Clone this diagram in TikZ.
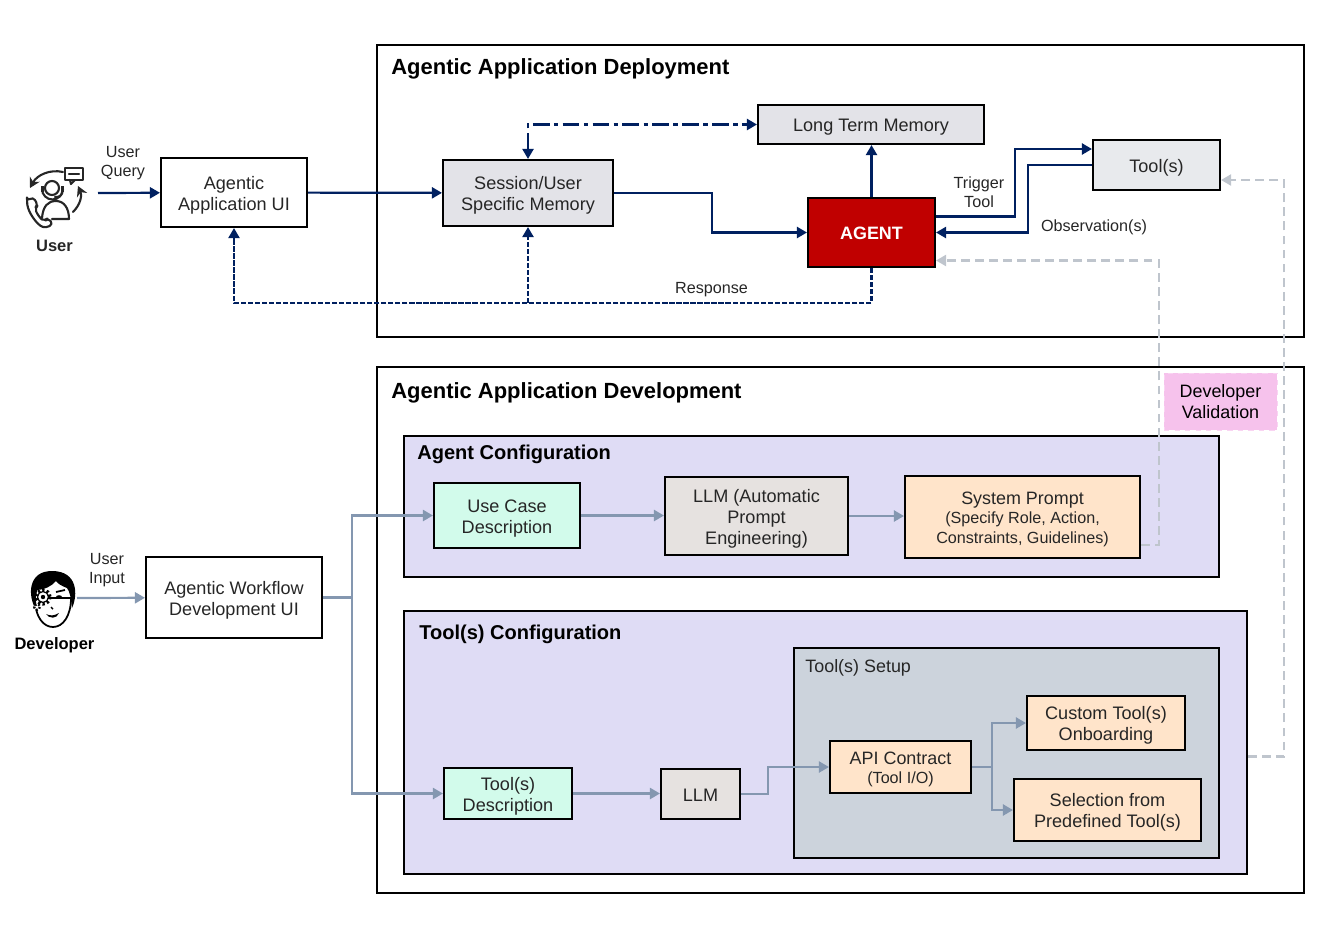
\documentclass[tikz,border=0pt]{standalone}
\usepackage{fontspec}
\setmainfont{Liberation Sans}
\usetikzlibrary{positioning, calc, arrows.meta}
\definecolor{navy}{HTML}{002060}
\definecolor{slate}{HTML}{8497B0}
\definecolor{pale}{HTML}{BFC5CD}
\definecolor{agentred}{HTML}{C00000}
\definecolor{memory}{HTML}{E3E3E8}
\definecolor{toolgrey}{HTML}{E8EAED}
\definecolor{mint}{HTML}{D2FBEB}
\definecolor{stone}{HTML}{E6E2E0}
\definecolor{peach}{HTML}{FFE4CA}
\definecolor{lilac}{HTML}{DFDCF5}
\definecolor{setup}{HTML}{CCD3DC}
\definecolor{pink}{HTML}{F6C2EC}

\begin{document}
\begin{tikzpicture}[x = 0.02cm, y = -0.02cm]

\tikzset{
box/.style = {rectangle, draw, line width = 1.2pt, align = center, inner sep = 0pt,
	font = \fontsize{10.3}{12}\selectfont, text = black!85},
lift/.style = {execute at begin node = {\rule{0pt}{#1}}},
smallbox/.style = {box, font = \fontsize{10.2}{11}\selectfont},
panel/.style = {rectangle, draw, line width = 1.2pt, inner sep = 0pt},
title/.style = {anchor = west, inner sep = 0pt, font = \fontsize{12.5}{14}\selectfont\bfseries},
subtitle/.style = {anchor = west, inner sep = 0pt, font = \fontsize{11.4}{14}\selectfont\bfseries},
tag/.style = {align = center, inner sep = 0pt, font = \fontsize{9.2}{10.8}\selectfont, text = black!85},
deploy/.style = {-{Triangle[length = 2mm, width = 2.2mm]}, color = navy, line width = 1.25pt},
develop/.style = {-{Triangle[length = 2mm, width = 2.2mm]}, color = slate, line width = 1.25pt},
check/.style = {-{Triangle[length = 2mm, width = 2.2mm]}, color = pale, line width = 1.25pt, dash pattern = on 5pt off 3pt},
}
\useasboundingbox (0,0) rectangle (1322,937);

%% Outer panels
\node at (840.5,191) [panel, minimum width = 18.54cm, minimum height = 5.84cm] (deployment) {};
\node at (840.5,630) [panel, minimum width = 18.54cm, minimum height = 10.52cm] (development) {};
\node at (391,69) [title] (deploymenttitle) {Agentic Application Deployment};
\node at (391,393) [title] (developmenttitle) {Agentic Application Development};

%% Configuration panels
\node at (811.5,506.5) [panel, fill = lilac, minimum width = 16.3cm, minimum height = 2.82cm] (agentconfig) {};
\node at (825.5,742.5) [panel, fill = lilac, minimum width = 16.86cm, minimum height = 5.26cm] (toolconfig) {};
\node at (1006.5,753) [panel, fill = setup, minimum width = 8.5cm, minimum height = 4.2cm] (toolsetup) {};
\node at (417,454) [subtitle] (agentconfigtitle) {Agent Configuration};
\node at (419,634) [subtitle] (toolconfigtitle) {Tool(s) Configuration};
\node at (805,668) [tag, anchor = west, font = \fontsize{10.2}{12}\selectfont] (toolsetuptitle) {Tool(s) Setup};

%% Deployment
\node at (234,192.5) [box, lift = 22.4pt, minimum width = 2.92cm, minimum height = 1.38cm] (appui) {Agentic\\Application UI};
\node at (528,193) [box, lift = 22.4pt, fill = memory, minimum width = 3.4cm, minimum height = 1.32cm] (session) {Session/User\\Specific Memory};
\node at (871,124.5) [box, lift = 10.4pt, fill = memory, minimum width = 4.52cm, minimum height = 0.78cm] (longterm) {Long Term Memory};
\node at (871.5,232.5) [box, lift = 8.5pt, fill = agentred, text = white, minimum width = 2.54cm, minimum height = 1.38cm, font = \fontsize{10.2}{12}\selectfont\bfseries] (agent) {AGENT};
\node at (1156.5,165) [box, lift = 10.4pt, fill = toolgrey, minimum width = 2.54cm, minimum height = 1cm] (tools) {Tool(s)};

%% Development
\node at (234,597.5) [box, lift = 22.4pt, minimum width = 3.52cm, minimum height = 1.62cm] (workflowui) {Agentic Workflow\\Development UI};
\node at (507,515.5) [box, lift = 22.4pt, fill = mint, minimum width = 2.92cm, minimum height = 1.3cm] (usecase) {Use Case\\Description};
\node at (756.5,516) [box, lift = 34.4pt, fill = stone, minimum width = 3.66cm, minimum height = 1.56cm] (promptllm) {LLM (Automatic\\Prompt\\Engineering)};
\node at (1022.5,517) [smallbox, lift = 31.7pt, fill = peach, minimum width = 4.7cm, minimum height = 1.64cm] (sysprompt) {System Prompt\\{\fontsize{9.2}{11}\selectfont (Specify Role, Action,}\\{\fontsize{9.2}{11}\selectfont Constraints, Guidelines)}};
\node at (508,793.5) [box, lift = 22.4pt, fill = mint, minimum width = 2.56cm, minimum height = 1.02cm] (tooldesc) {Tool(s)\\Description};
\node at (700.5,794) [box, lift = 8.5pt, fill = stone, minimum width = 1.58cm, minimum height = 1cm] (toolllm) {LLM};
\node at (900.5,767) [smallbox, lift = 20.7pt, fill = peach, minimum width = 2.82cm, minimum height = 1.04cm] (apicontract) {API Contract\\{\fontsize{9.2}{11}\selectfont (Tool I/O)}};
\node at (1106,723) [box, lift = 22.4pt, fill = peach, minimum width = 3.16cm, minimum height = 1.08cm] (customtool) {Custom Tool(s)\\Onboarding};
\node at (1107.5,810) [box, lift = 22.4pt, fill = peach, minimum width = 3.74cm, minimum height = 1.24cm] (selection) {Selection from\\Predefined Tool(s)};
\node at (1220.5,401.5) [tag, fill = pink, draw = pink!70!white, dashed, minimum width = 2.26cm, minimum height = 1.14cm, font = \fontsize{10.2}{12}\selectfont, text = black] (validation) {Developer\\Validation};

%% Labels
\node at (123,163) [tag] (userquery) {User\\Query};
\node at (107,570) [tag] (userinput) {User\\Input};
\node at (979,192) [tag] (trigger) {Trigger\\Tool};
\node at (1094,227.5) [tag] (observation) {Observation(s)};
\node at (711.5,290) [tag] (response) {Response};
\node at (54.5,245.5) [tag, font = \fontsize{9.4}{11}\selectfont\bfseries] (username) {User};
\node at (54.5,645.5) [tag, text = black, font = \fontsize{9.4}{11}\selectfont\bfseries] (developername) {Developer};

%% Free ends
\coordinate (userend) at (98,193);
\coordinate (developerend) at (77,598);
\coordinate (responseturn) at (871.5,303);

%% Deployment connectors
\draw [deploy] (userend) -- (appui);
\draw [deploy] (appui) -- (session);
\draw [deploy] (session.east) -- ++(98,0) |- (agent.west);
\draw [deploy] (agent.north) -- (longterm.south -| agent.north);
\draw [deploy, {Triangle[length = 2mm, width = 2.2mm]}-{Triangle[length = 2mm, width = 2.2mm]}, dash pattern = on 9.5pt off 2.5pt on 2.5pt off 2.5pt] (session.north) |- (longterm.west);
\draw [deploy] ([yshift = 0.32cm]agent.east) -- ++(79,0) |- ([yshift = 0.32cm]tools.west);
\draw [deploy] (tools.west) -- ++(-64,0) |- (agent.east);
\draw [deploy, dash pattern = on 3pt off 1pt] (agent.south) -- (responseturn) -| (appui.south);
\draw [deploy, dash pattern = on 3pt off 1pt] (session.south |- responseturn) -- (session.south);

%% Development connectors
\draw [develop] (developerend) -- (workflowui);
\draw [develop] (workflowui.east) -- ++(29,0) |- (usecase.west);
\draw [develop] (workflowui.east) -- ++(29,0) |- (tooldesc.west);
\draw [develop] (usecase.east) -- (promptllm.west |- usecase.east);
\draw [develop] (promptllm.east) -- (sysprompt.west |- promptllm.east);
\draw [develop] (tooldesc.east) -- (toolllm.west |- tooldesc.east);
\draw [develop] (toolllm.east) -- ++(27,0) |- (apicontract.west);
\draw [develop] (apicontract.east) -- ++(20,0) |- (customtool.west);
\draw [develop] (apicontract.east) -- ++(20,0) |- (selection.west);

%% Validation connectors
\draw [check] ([yshift = -0.56cm]sysprompt.east) -- ++(18,0) |- ([yshift = -0.56cm]agent.east);
\draw [check] ([yshift = -0.28cm]toolconfig.east) -- ++(36,0) |- ([yshift = -0.3cm]tools.east);

%% User icon
\begin{scope}[line width = 1.2pt, line cap = round, line join = round, color = black!85]
\draw [fill = white] (65,168) rectangle (83,180);
\draw (70,180) -- (71,184) -- (75,180);
\draw (69,174) -- (79,174);
\draw (52,188) circle (7);
\draw (42,189) arc (180:0:10.5);
\fill (41,186) rectangle (44,192);
\fill (61,186) rectangle (64,192);
\draw (62,192) .. controls (62,196) and (59,197) .. (55,197);
\draw (42,218) .. controls (43,206) and (48,201) .. (56,201) .. controls (64,201) and (69,208) .. (69,219) -- (52,219);
\draw [fill = white, rounded corners = 2pt] (27,201) -- (33,197) -- (38,205) -- (35,208) .. controls (37,214) and (41,219) .. (45,221) -- (48,218) -- (53,224) -- (46,228) .. controls (37,225) and (28,212) .. (27,201) -- cycle;
\draw [-{Stealth[length = 2mm, width = 2.2mm]}] (63,172) .. controls (50,169) and (37,175) .. (30,188);
\draw [-{Stealth[length = 2mm, width = 2.2mm]}] (73,212) .. controls (81,204) and (82,195) .. (78,186);
\end{scope}

%% Developer icon
\draw [line width = 1pt, fill = white] (35,598) .. controls (35,618) and (44,627) .. (53,627) .. controls (63,627) and (71,616) .. (71,598) -- cycle;
\fill (35,608) .. controls (28,595) and (28,571) .. (52,571) .. controls (78,571) and (78,595) .. (72,608) .. controls (71,598) and (70,592) .. (67,588) .. controls (62,586) and (58,584) .. (56,581) .. controls (52,586) and (44,590) .. (37,590) -- cycle;
\draw [line width = 1.8pt, dash pattern = on 1.3pt off 1.3pt, fill = white] (43,597) circle (7);
\draw [line width = 0.7pt, fill = white] (43,597) circle (5.5);
\fill (43,597) circle (2.2);
\draw [line width = 1.3pt, dash pattern = on 1pt off 1pt, fill = white] (37,607) circle (2.8);
\fill (59,597) ellipse (3 and 1.8);
\draw [line width = 1pt] (56,592) -- (65,590);
\draw [line width = 0.8pt] (51,607) -- (53,609);
\fill (46,614) .. controls (50,616) and (54,616) .. (59,613) .. controls (57,619) and (49,619) .. (46,614) -- cycle;

\end{tikzpicture}
\end{document}
